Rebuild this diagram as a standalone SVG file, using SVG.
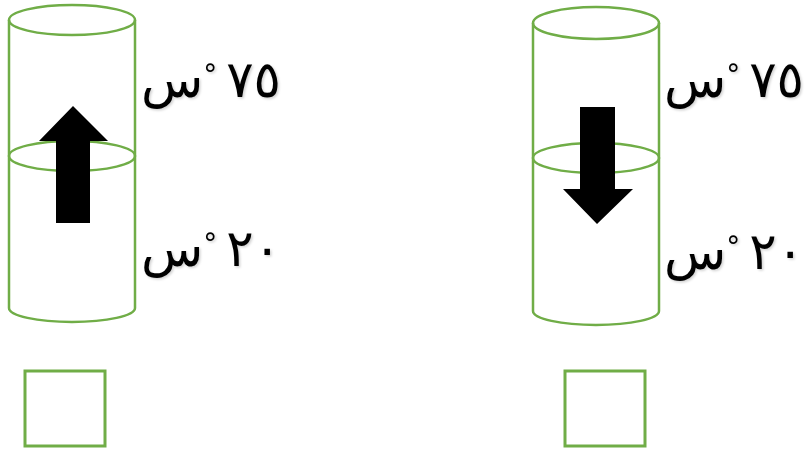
<svg xmlns="http://www.w3.org/2000/svg" width="806" height="450" viewBox="0 0 806 450">
<defs>
<filter id="sh" x="-10%" y="-20%" width="130%" height="150%">
<feDropShadow dx="1.5" dy="1.5" stdDeviation="1" flood-color="#000" flood-opacity="0.18"/>
</filter>
</defs>
<style>
.g{fill:none;stroke:#70AD47;stroke-width:2.5}
.sq{fill:#fff;stroke:#70AD47;stroke-width:3}
.ar{fill:#000}
.t{font-family:"DejaVu Sans",sans-serif;font-size:51px;fill:#000;text-anchor:middle;filter:url(#sh)}
.deg{font-size:28px}
</style>
<rect width="806" height="450" fill="#fff"/>
<g id="cylinder-left">
<ellipse class="g" cx="72" cy="20" rx="63" ry="15"/>
<path class="g" d="M9 20 V308 A63 14 0 0 0 135 308 V20"/>
<ellipse class="g" cx="72" cy="156" rx="63" ry="15"/>
</g>
<g id="cylinder-right">
<ellipse class="g" cx="596" cy="23" rx="63" ry="16"/>
<path class="g" d="M533 23 V311 A63 14 0 0 0 659 311 V23"/>
<ellipse class="g" cx="596" cy="158" rx="63" ry="15"/>
</g>
<g id="arrow-up">
<polygon class="ar" points="73,106 108,141 90,141 90,223 56,223 56,141 39,141"/>
</g>
<g id="arrow-down">
<polygon class="ar" points="580,107 615,107 615,189 633,189 597,224 563,189 580,189"/>
</g>
<g id="labels-left">
<text class="t" x="211" y="97" direction="rtl">٧٥<tspan class="deg" baseline-shift="13"> °</tspan>س</text>
<text class="t" x="211" y="266" direction="rtl">٢٠<tspan class="deg" baseline-shift="13"> °</tspan>س</text>
</g>
<g id="labels-right">
<text class="t" x="734" y="97" direction="rtl">٧٥<tspan class="deg" baseline-shift="13"> °</tspan>س</text>
<text class="t" x="734" y="269" direction="rtl">٢٠<tspan class="deg" baseline-shift="13"> °</tspan>س</text>
</g>
<g id="box-left"><rect class="sq" x="25" y="371" width="80" height="75"/></g>
<g id="box-right"><rect class="sq" x="565" y="371" width="80" height="75"/></g>
<g id="connectors"></g>
</svg>
